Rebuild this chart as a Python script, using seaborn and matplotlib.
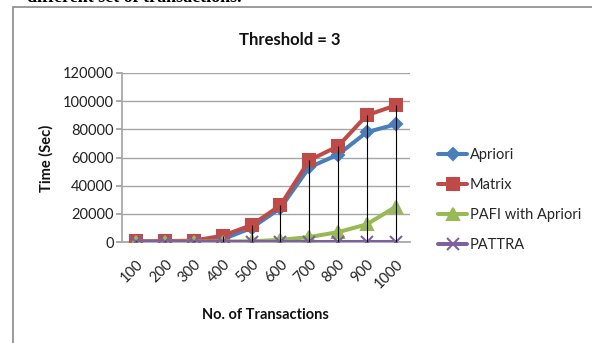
import matplotlib
matplotlib.use("Agg")
import matplotlib.pyplot as plt
import seaborn as sns
import numpy as np
import pandas as pd
from matplotlib.patches import Rectangle

categories = ["100", "200", "300", "400", "500", "600", "700", "800", "900", "1000"]
apriori = [300, 400, 700, 2000, 10000, 24000, 53000, 62000, 78000, 83500]
matrix = [500, 600, 1000, 4500, 12000, 26000, 58000, 68000, 90000, 97000]
pafi = [100, 150, 250, 350, 500, 1500, 3500, 7000, 12500, 25000]
pattra = [50, 50, 50, 50, 50, 50, 50, 50, 50, 50]
series_names = ["Apriori", "Matrix", "PAFI with Apriori", "PATTRA"]
yticks = [0, 20000, 40000, 60000, 80000, 100000, 120000]

sns.set_theme(style="white")
plt.rcParams["font.family"] = ["Lato", "DejaVu Sans"]

fig = plt.figure(figsize=(5.92, 3.43), dpi=100)
W, H = 592, 343
ax = fig.add_axes([122 / W, 1 - 242 / H, 288 / W, 169 / H])

pos = np.arange(len(categories))
styles = [
    ("#4A7EBB", "D", 6.5),
    ("#BE4B48", "s", 8.5),
    ("#98B954", "^", 8.5),
    ("#7D60A0", "x", 8.5),
]
data = [apriori, matrix, pafi, pattra]
for name, vals, (col, mk, ms) in zip(series_names, data, styles):
    df = pd.DataFrame({"x": pos, "y": vals})
    sns.lineplot(data=df, x="x", y="y", ax=ax, color=col, linewidth=2.9,
                 marker=mk, markersize=ms, markeredgecolor=col,
                 markeredgewidth=1.5, label=name, zorder=3)

arr = np.array(data)
ax.vlines(pos, arr.min(axis=0), arr.max(axis=0), color="black",
          linewidth=0.8, zorder=4)

ax.set_xlim(-0.5, len(categories) - 0.5)
ax.set_ylim(0, 120000)
ax.set_yticks(yticks)
ax.set_yticklabels([str(v) for v in yticks], fontsize=10.5, color="#222222")
ax.set_xticks(pos)
ax.set_xticklabels(categories, rotation=45, ha="right", va="top",
                   rotation_mode="anchor", fontsize=10.5, color="#222222")
ax.tick_params(axis="x", pad=11, length=0)
ax.tick_params(axis="y", pad=2, length=4, color="#A0A0A0", left=True)
ax.grid(axis="y", color="#A6A6A6", linewidth=1)
ax.set_axisbelow(True)
for s in ["top", "right"]:
    ax.spines[s].set_visible(False)
ax.spines["left"].set_color("#A6A6A6")
ax.spines["bottom"].set_color("#A6A6A6")
ax.set_xlabel("")
ax.set_ylabel("")
ax.legend_.remove()

fig.text(46 / W, 1 - 158 / H, "Time (Sec)", rotation=90, ha="center",
         va="center", fontsize=10.5, fontweight="bold", color="#111111")
fig.text(265 / W, 1 - 315 / H, "No. of Transactions", ha="center",
         va="center", fontsize=10.5, fontweight="bold", color="#111111")
fig.text(290 / W, 1 - 40 / H, "Threshold = 3", ha="center", va="center",
         fontsize=12, fontweight="bold", color="#111111")

handles, labels = ax.get_legend_handles_labels()
fig.legend(handles, labels, loc="center left",
           bbox_to_anchor=(438 / W, 1 - 200 / H), frameon=False,
           fontsize=10.5, handlelength=2.0, handletextpad=0.2,
           labelspacing=1.1, borderpad=0, borderaxespad=0)

fig.patches.append(Rectangle((13 / W, -0.1), 1.0, 1.1 - 7 / H,
                             transform=fig.transFigure, fill=False,
                             edgecolor="#8A8A8A", linewidth=1.2))
fig.text(27 / W, 1 - 2.5 / H, "different set of transactions.",
         ha="left", va="baseline", fontsize=13, fontweight="bold",
         family=["Liberation Serif"], color="black")

fig.savefig("out.png", dpi=100, facecolor="white")
